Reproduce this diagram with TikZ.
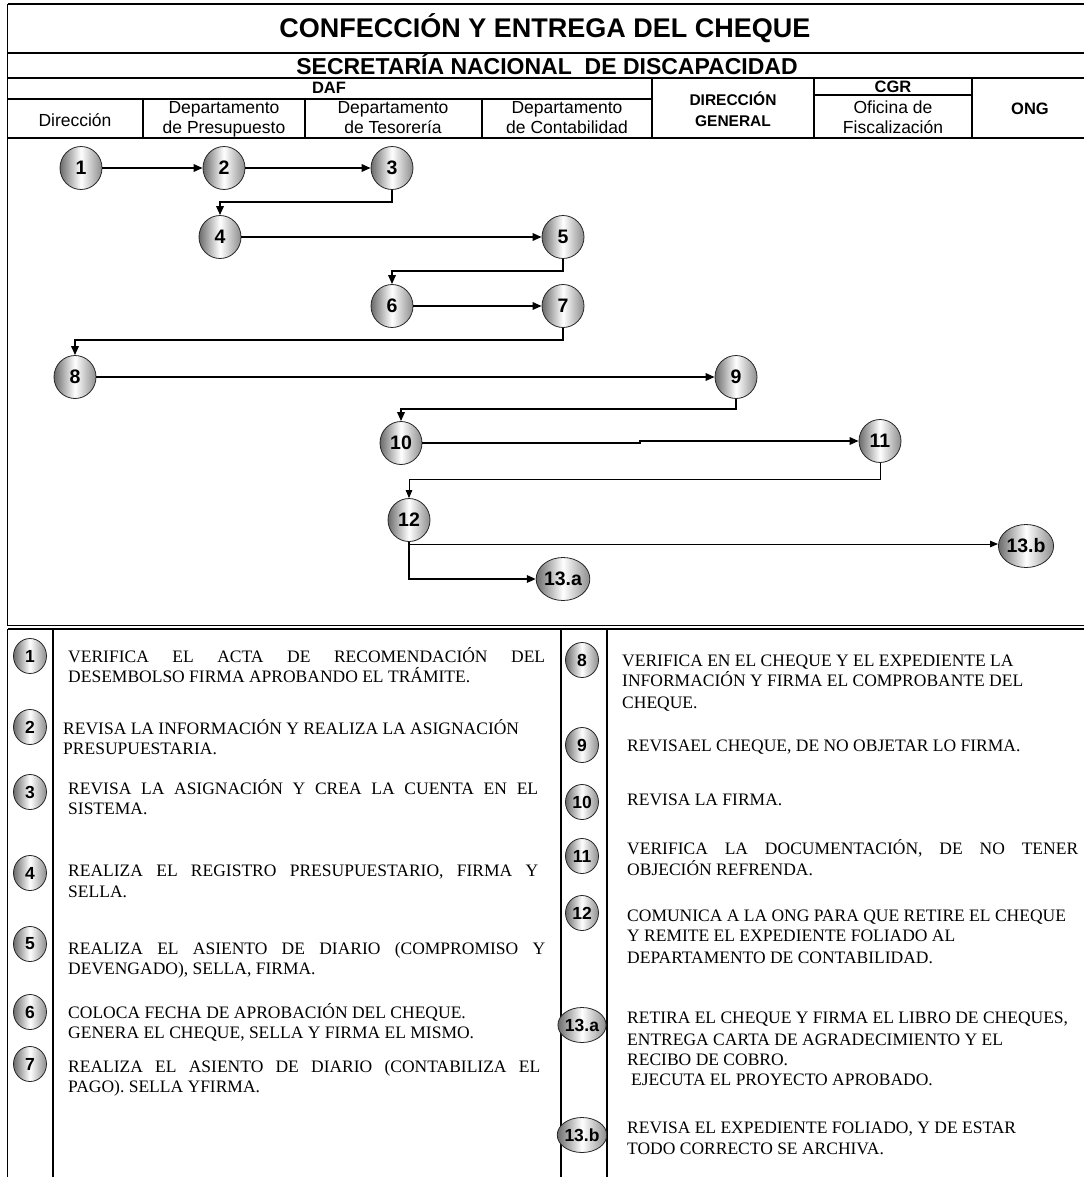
\documentclass[tikz,border=0pt]{standalone}
\usepackage{fontspec}
\setmainfont{Liberation Serif}
\newfontfamily\arialf{Liberation Sans}
\usetikzlibrary{shapes.geometric,arrows.meta,calc}
\newcommand{\hstr}{\rule[-4pt]{0pt}{16pt}}
\newcommand{\bstr}{\rule[-4pt]{0pt}{17pt}}
\begin{document}
\begin{tikzpicture}[x=1pt,y=-1pt,
  frame/.style={line width=1.2pt},
  bignum/.style={ellipse, draw=black!85, line width=0.8pt, minimum width=42pt, minimum height=43pt, inner sep=0pt,
     left color=black!58, right color=black!45, middle color=white,
     font=\arialf\bfseries\fontsize{19.5}{19.5}\selectfont},
  smallnum/.style={bignum, minimum width=33pt, minimum height=35pt, font=\arialf\bfseries\fontsize{17.5}{17.5}\selectfont},
  flow/.style={line width=1.8pt, -{Triangle[length=9pt,width=7.5pt]}},
  thinflow/.style={line width=0.9pt, -{Triangle[length=8pt,width=6.5pt]}},
  hdr/.style={font=\arialf\fontsize{17.5}{20}\selectfont, align=center, inner sep=0pt},
  hdrb/.style={font=\arialf\bfseries\fontsize{16.5}{21}\selectfont, align=center, inner sep=0pt},
  txt/.style={font=\fontsize{17.5}{20}\selectfont, anchor=base west, inner sep=0pt},
]
\useasboundingbox (0,0) rectangle (1084,1177);
\fill[white] (0,0) rectangle (1084,1177);

% ---------- header frame ----------
\draw[frame] (7.5,4) -- (1084,4);
\draw[frame] (7.5,4) -- (7.5,625.5);
\draw[frame] (7.5,53) -- (1084,53);
\draw[frame] (7.5,78) -- (1084,78);
\draw[line width=1.6pt] (7.5,99) -- (652,99);
\draw[frame] (814,95) -- (972,95);
\draw[frame] (143,99) -- (143,138);
\draw[frame] (305,99) -- (305,138);
\draw[frame] (482,99) -- (482,138);
\draw[frame] (652,78) -- (652,138);
\draw[frame] (814,78) -- (814,138);
\draw[frame] (972,78) -- (972,138);
\draw[frame] (7.5,138) -- (1084,138);
\draw[frame] (7.5,625.5) -- (1084,625.5);

% ---------- header texts ----------
\node[font=\arialf\bfseries\fontsize{27}{30}\selectfont, inner sep=0pt, anchor=base] (title) at (545,38) {CONFECCIÓN Y ENTREGA DEL CHEQUE};
\node[font=\arialf\bfseries\fontsize{23}{25}\selectfont, inner sep=0pt, anchor=base] (sub) at (547,74.5) {SECRETARÍA NACIONAL\ \ DE DISCAPACIDAD};
\node[hdrb, anchor=base] (daf) at (329,93.5) {DAF};
\node[hdr, anchor=base] (hdir) at (75,126.5) {Dirección};
\node[hdr] (hpre) at (224,119.5) {\hstr Departamento\\\hstr de Presupuesto};
\node[hdr] (htes) at (393,119.5) {\hstr Departamento\\\hstr de Tesorería};
\node[hdr] (hcon) at (567,119.5) {\hstr Departamento\\\hstr de Contabilidad};
\node[hdrb, font=\arialf\bfseries\fontsize{15.5}{21}\selectfont] (hdg) at (733,111.5) {\bstr DIRECCIÓN\\\bstr GENERAL};
\node[hdrb, anchor=base] (hcgr) at (893,93) {CGR};
\node[hdr] (hofi) at (893,119) {\hstr Oficina de\\\hstr Fiscalización};
\node[hdrb, anchor=base] (hong) at (1030,115) {ONG};

% ---------- flow ----------
\node[bignum] (n1) at (81,168) {1};
\node[bignum] (n2) at (224,168) {2};
\node[bignum] (n3) at (392,168) {3};
\node[bignum] (n4) at (220,237) {4};
\node[bignum] (n5) at (563,237) {5};
\node[bignum] (n6) at (392,306) {6};
\node[bignum] (n7) at (563,306) {7};
\node[bignum] (n8) at (75,377) {8};
\node[bignum] (n9) at (736,377) {9};
\node[bignum] (n10) at (401,443) {10};
\node[bignum] (n11) at (880,441) {11};
\node[bignum] (n12) at (409,520) {12};
\node[bignum] (n13a) at (563,579) {13.a};
\node[bignum] (n13b) at (1026,546) {13.b};

\coordinate (jog) at (640,443);
\coordinate (br) at (409,544);

\draw[flow] (n1) -- (n2);
\draw[flow] (n2) -- (n3);
\draw[flow] (n3.south) -- ++(0,12) -| (n4.north);
\draw[flow] (n4) -- (n5);
\draw[flow] (n5.south) -- ++(0,12) -| (n6.north);
\draw[flow] (n6) -- (n7);
\draw[flow] (n7.south) -- ++(0,12) -| (n8.north);
\draw[flow] (n8) -- (n9);
\draw[flow] (n9.south) -- ++(0,10) -| (n10.north);
\draw[flow] (n10) -- (jog) |- (n11);
\draw[thinflow] (n11.south) -- ++(0,17) -| (n12.north);
\draw[flow] (n12.south) |- (n13a);
\draw[thinflow] (br) -- (br -| n13b.west);

% ---------- table frame ----------
\draw[frame] (7.5,629) -- (1084,629);
\draw[frame] (7.5,629) -- (7.5,1177);
\draw[frame] (53,629) -- (53,1177);
\draw[frame] (561,629) -- (561,1177);
\draw[frame] (607,629) -- (607,1177);

% ---------- table, left ----------
\node[smallnum] (t1) at (30,656) {1};
\node[txt] (d1a) at (68,662) {\makebox[477pt][s]{VERIFICA EL ACTA DE RECOMENDACIÓN DEL}};
\node[txt] (d1b) at (68,682) {DESEMBOLSO FIRMA APROBANDO EL TRÁMITE.};

\node[smallnum] (t2) at (30,727) {2};
\node[txt] (d2a) at (63,734) {REVISA LA INFORMACIÓN Y REALIZA LA ASIGNACIÓN};
\node[txt] (d2b) at (63,754) {PRESUPUESTARIA.};

\node[smallnum] (t3) at (30,792) {3};
\node[txt] (d3a) at (68,794) {\makebox[470pt][s]{REVISA LA ASIGNACIÓN Y CREA LA CUENTA EN EL}};
\node[txt] (d3b) at (68,814) {SISTEMA.};

\node[smallnum] (t4) at (30,873) {4};
\node[txt] (d4a) at (68,876) {\makebox[470pt][s]{REALIZA EL REGISTRO PRESUPUESTARIO, FIRMA Y}};
\node[txt] (d4b) at (68,897) {SELLA.};

\node[smallnum] (t5) at (30,944) {5};
\node[txt] (d5a) at (68,954) {\makebox[477pt][s]{REALIZA EL ASIENTO DE DIARIO (COMPROMISO Y}};
\node[txt] (d5b) at (68,974) {DEVENGADO), SELLA, FIRMA.};

\node[smallnum] (t6) at (30,1012) {6};
\node[txt] (d6a) at (68,1018) {COLOCA FECHA DE APROBACIÓN DEL CHEQUE.};
\node[txt] (d6b) at (68,1038) {GENERA EL CHEQUE, SELLA Y FIRMA EL MISMO.};

\node[smallnum] (t7) at (30,1064) {7};
\node[txt] (d7a) at (68,1072) {\makebox[472pt][s]{REALIZA EL ASIENTO DE DIARIO (CONTABILIZA EL}};
\node[txt] (d7b) at (68,1092) {PAGO). SELLA YFIRMA.};

% ---------- table, right ----------
\node[smallnum] (t8) at (582,660) {8};
\node[txt] (d8a) at (622,666) {VERIFICA EN EL CHEQUE Y EL EXPEDIENTE LA};
\node[txt] (d8b) at (622,686) {INFORMACIÓN Y FIRMA EL COMPROBANTE DEL};
\node[txt] (d8c) at (622,708) {CHEQUE.};

\node[smallnum] (t9) at (582,745) {9};
\node[txt] (d9a) at (627,751) {REVISAEL CHEQUE, DE NO OBJETAR LO FIRMA.};

\node[smallnum] (t10) at (582,802) {10};
\node[txt] (d10a) at (627,805) {REVISA LA FIRMA.};

\node[smallnum] (t11) at (582,856) {11};
\node[txt] (d11a) at (627,854) {\makebox[451pt][s]{VERIFICA LA DOCUMENTACIÓN, DE NO TENER}};
\node[txt] (d11b) at (627,875) {OBJECIÓN REFRENDA.};

\node[smallnum] (t12) at (582,913) {12};
\node[txt] (d12a) at (627,921) {COMUNICA A LA ONG PARA QUE RETIRE EL CHEQUE};
\node[txt] (d12b) at (627,941) {Y REMITE EL EXPEDIENTE FOLIADO AL};
\node[txt] (d12c) at (627,963) {DEPARTAMENTO DE CONTABILIDAD.};

\node[smallnum] (t13a) at (582,1025) {13.a};
\node[txt] (d13a1) at (627,1023) {RETIRA EL CHEQUE Y FIRMA EL LIBRO DE CHEQUES,};
\node[txt] (d13a2) at (627,1045) {ENTREGA CARTA DE AGRADECIMIENTO Y EL};
\node[txt] (d13a3) at (627,1065) {RECIBO DE COBRO.};
\node[txt] (d13a4) at (631,1085) {EJECUTA EL PROYECTO APROBADO.};

\node[smallnum] (t13b) at (582,1135) {13.b};
\node[txt] (d13b1) at (627,1133) {REVISA EL EXPEDIENTE FOLIADO, Y DE ESTAR};
\node[txt] (d13b2) at (627,1154) {TODO CORRECTO SE ARCHIVA.};
\end{tikzpicture}
\end{document}
